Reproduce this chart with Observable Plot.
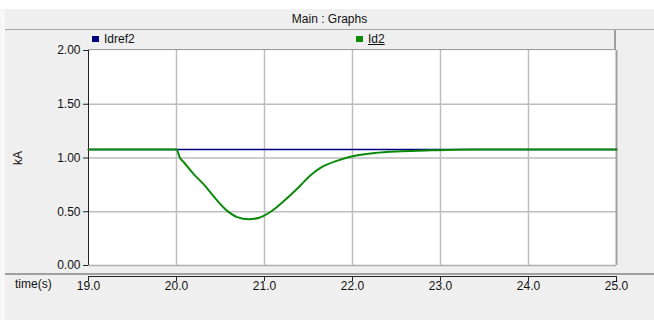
<!DOCTYPE html>
<html>
<head>
<meta charset="utf-8">
<script src="https://cdn.jsdelivr.net/npm/d3@7"></script>
<script src="https://cdn.jsdelivr.net/npm/@observablehq/plot@0.6"></script>
<style>
  html, body { margin: 0; padding: 0; }
  body { width: 654px; height: 320px; position: relative; overflow: hidden; background: #efefef;
         font-family: "Liberation Sans", Arial, sans-serif; font-size: 12px; color: #111; }
  .abs { position: absolute; }
  #topstrip { left: 0; top: 0; width: 654px; height: 9px; background: #ffffff; }
  #leftstrip { left: 0; top: 9px; width: 5px; height: 311px; background: #f7f7f7; }
  #titlebar { left: 5px; top: 9px; width: 649px; height: 20px; background: #efefef; border-bottom: 1px solid #a8a8a8;
              text-align: center; line-height: 20px; }
  #legend { left: 88px; top: 30px; width: 526px; height: 19px; background: #efefef;
            border-bottom: 1px solid #9a9a9a; border-right: 2px solid #a0a0a0; }
  .item { position: absolute; top: 0; height: 19px; line-height: 19px; }
  .sw { display: inline-block; width: 7px; height: 6px; margin-right: 5px; vertical-align: 1px; }
  #sep { left: 5px; top: 273px; width: 649px; height: 2px; background: #a0a0a0; }
  #timelabel { left: 15px; top: 277px; }
  #ylabel { left: 18px; top: 158px; transform: translate(-50%, -50%) rotate(-90deg); }
  #chart { left: 0; top: 40px; }
  #chart svg { background: transparent; overflow: visible; }
</style>
</head>
<body>
<div id="topstrip" class="abs"></div>
<div id="leftstrip" class="abs"></div>
<div id="titlebar" class="abs">Main : Graphs</div>
<div id="sep" class="abs"></div>
<div id="chart" class="abs"></div>
<div id="legend" class="abs"></div>
<div id="timelabel" class="abs">time(s)</div>
<div id="ylabel" class="abs">kA</div>
<script>
// ---- data ----
const seriesNames = ["Idref2", "Id2"];
const seriesColors = ["#000080", "#0a8a0a"];

const idrefTime = [19.0, 25.0];
const idrefValue = [1.08, 1.08];

const idTime = [19.0, 20.0, 20.04, 20.08, 20.2, 20.31, 20.42, 20.58, 20.69, 20.82, 20.94, 21.07, 21.22, 21.4, 21.52, 21.64, 21.83, 22.0, 22.25, 22.55, 22.9, 23.35, 25.0];
const idValue = [1.08, 1.08, 1.00, 0.963, 0.846, 0.754, 0.645, 0.506, 0.45, 0.43, 0.444, 0.50, 0.60, 0.738, 0.837, 0.91, 0.976, 1.016, 1.046, 1.062, 1.071, 1.078, 1.08];

const xTicks = [19, 20, 21, 22, 23, 24, 25];
const yTicks = [0, 0.5, 1.0, 1.5, 2.0];
const xGrid = [20, 21, 22, 23, 24];
const yGrid = [0.5, 1.0, 1.5];

// ---- tables ----
const idref = idrefTime.map((t, i) => ({t, v: idrefValue[i]}));
const id2 = idTime.map((t, i) => ({t, v: idValue[i]}));

const plot = Plot.plot({
  width: 654,
  height: 270,
  marginLeft: 88,
  marginRight: 38,
  marginTop: 10,
  marginBottom: 45,
  style: {fontFamily: "Liberation Sans, Arial, sans-serif", fontSize: "12px", background: "transparent", color: "#111"},
  x: {domain: [19, 25]},
  y: {domain: [0, 2]},
  marks: [
    Plot.frame({fill: "white", stroke: null}),
    Plot.ruleX(xGrid, {stroke: "#bdbdbd", strokeWidth: 1.5}),
    Plot.ruleY(yGrid, {stroke: "#bdbdbd", strokeWidth: 1.5}),
    Plot.ruleX([25], {stroke: "#a0a0a0", strokeWidth: 2}),
    Plot.ruleY([0], {stroke: "#b0b0b0", strokeWidth: 1.5}),
    Plot.ruleX([19], {stroke: "#222", strokeWidth: 1}),
    Plot.line(idref, {x: "t", y: "v", stroke: seriesColors[0], strokeWidth: 1.5}),
    Plot.line(id2, {x: "t", y: "v", stroke: seriesColors[1], strokeWidth: 2, curve: "monotone-x"}),
    Plot.axisY(yTicks, {anchor: "left", tickFormat: d3.format(".2f"), tickSize: 5, tickPadding: 3, stroke: "#222", label: null}),
    Plot.ruleY([0], {dy: 11, stroke: "#222", strokeWidth: 1}),
    Plot.axisX(xTicks, {anchor: "bottom", tickFormat: d3.format(".1f"), tickSize: 5, tickPadding: 0, dy: 11, stroke: "#222", label: null})
  ]
});
document.getElementById("chart").appendChild(plot);

// legend
const legend = document.getElementById("legend");
seriesNames.forEach((name, i) => {
  const it = document.createElement("div");
  it.className = "item";
  it.style.left = (4 + i * 264) + "px";
  const sw = document.createElement("span");
  sw.className = "sw";
  sw.style.background = seriesColors[i];
  it.appendChild(sw);
  const tx = document.createElement("span");
  tx.textContent = name;
  if (i === 1) tx.style.textDecoration = "underline";
  it.appendChild(tx);
  legend.appendChild(it);
});
</script>
</body>
</html>
